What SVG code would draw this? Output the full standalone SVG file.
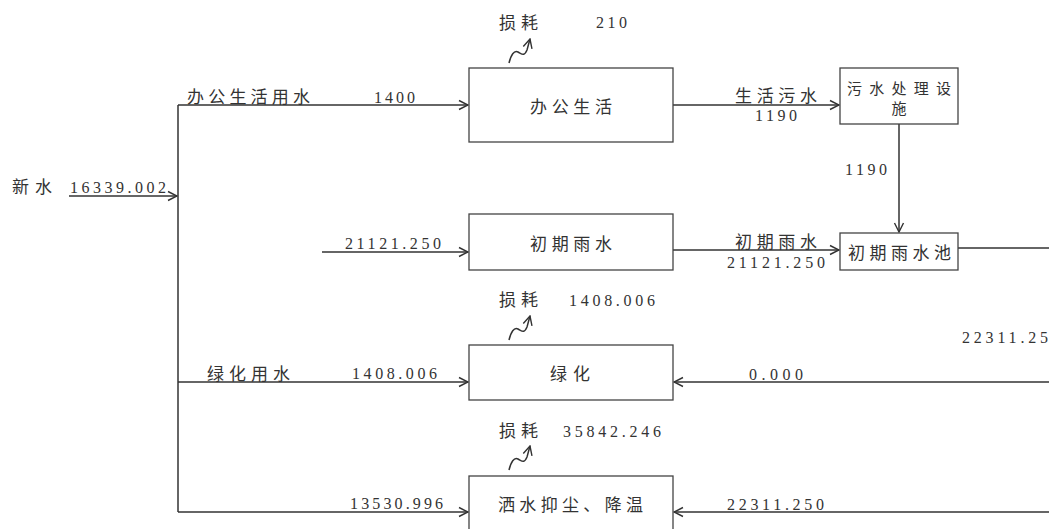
<svg xmlns="http://www.w3.org/2000/svg" width="1049" height="529" viewBox="0 0 1049 529">
<defs>
<style>
.ln{stroke:#333;stroke-width:1.5;fill:none}
.bx{stroke:#444;stroke-width:1.3;fill:#fff}
.cn{font-family:"Noto Sans CJK SC","Noto Sans",sans-serif;font-size:17px;fill:#333}
.cs{font-family:"Noto Sans CJK SC","Noto Sans",sans-serif;font-size:15px;fill:#333}
.nm{font-family:"Liberation Serif","DejaVu Serif",serif;font-size:16px;fill:#333}
</style>
<marker id="ar" viewBox="0 0 12 12" refX="11" refY="6" markerWidth="12" markerHeight="12" markerUnits="userSpaceOnUse" orient="auto">
<path d="M2,1.5 L11,6 L2,10.5" fill="none" stroke="#333" stroke-width="1.4"/>
</marker>
</defs>
<rect width="1049" height="529" fill="#fff"/>
<g id="connectors">
<line class="ln" x1="69" y1="196" x2="177" y2="196" marker-end="url(#ar)"/>
<line class="ln" x1="178" y1="105" x2="178" y2="512"/>
<line class="ln" x1="178" y1="105" x2="468" y2="105" marker-end="url(#ar)"/>
<line class="ln" x1="178" y1="382" x2="468" y2="382" marker-end="url(#ar)"/>
<line class="ln" x1="178" y1="512" x2="468" y2="512" marker-end="url(#ar)"/>
<line class="ln" x1="322" y1="252" x2="468" y2="252" marker-end="url(#ar)"/>
<line class="ln" x1="673" y1="105" x2="839" y2="105" marker-end="url(#ar)"/>
<line class="ln" x1="899" y1="124" x2="899" y2="232" marker-end="url(#ar)"/>
<line class="ln" x1="673" y1="250" x2="839" y2="250" marker-end="url(#ar)"/>
<line class="ln" x1="958" y1="248" x2="1049" y2="248"/>
<line class="ln" x1="1049" y1="382" x2="674" y2="382" marker-end="url(#ar)"/>
<line class="ln" x1="1049" y1="512" x2="674" y2="512" marker-end="url(#ar)"/>
<path class="ln" d="M509,63 C511,55 514,50 518,52 C522,54 524,57 527,50 L530,39" marker-end="url(#ar)"/>
<path class="ln" d="M509,340 C511,332 514,327 518,329 C522,331 524,334 527,327 L530,316" marker-end="url(#ar)"/>
<path class="ln" d="M509,470 C511,462 514,457 518,459 C522,461 524,464 527,457 L530,446" marker-end="url(#ar)"/>
</g>
<g id="node-office">
<rect class="bx" x="469" y="68" width="204" height="74"/>
<text class="cn" x="530" y="113" textLength="82" lengthAdjust="spacing">办公生活</text>
</g>
<g id="node-sewage">
<rect class="bx" x="840" y="68" width="118" height="56"/>
<text class="cs" x="847" y="94" textLength="104" lengthAdjust="spacing">污水处理设</text>
<text class="cs" x="899" y="114" text-anchor="middle">施</text>
</g>
<g id="node-rain">
<rect class="bx" x="469" y="214" width="204" height="56"/>
<text class="cn" x="530" y="250" textLength="82" lengthAdjust="spacing">初期雨水</text>
</g>
<g id="node-pool">
<rect class="bx" x="840" y="233" width="118" height="37"/>
<text class="cn" x="848" y="259" textLength="103" lengthAdjust="spacing">初期雨水池</text>
</g>
<g id="node-green">
<rect class="bx" x="469" y="345" width="204" height="55"/>
<text class="cn" x="550" y="380" textLength="40" lengthAdjust="spacing">绿化</text>
</g>
<g id="node-spray">
<rect class="bx" x="469" y="476" width="204" height="60"/>
<text class="cn" x="498" y="511" textLength="145" lengthAdjust="spacing">洒水抑尘、降温</text>
</g>
<g id="labels">
<text class="cn" x="12" y="193" textLength="40" lengthAdjust="spacing">新水</text>
<text class="nm" x="70" y="193" textLength="96" lengthAdjust="spacing">16339.002</text>
<text class="cn" x="187" y="103" textLength="123" lengthAdjust="spacing">办公生活用水</text>
<text class="nm" x="374" y="103" textLength="41" lengthAdjust="spacing">1400</text>
<text class="cn" x="499" y="29" textLength="39" lengthAdjust="spacing">损耗</text>
<text class="nm" x="596" y="28" textLength="31" lengthAdjust="spacing">210</text>
<text class="cn" x="735" y="102" textLength="82" lengthAdjust="spacing">生活污水</text>
<text class="nm" x="755" y="121" textLength="42" lengthAdjust="spacing">1190</text>
<text class="nm" x="845" y="175" textLength="42" lengthAdjust="spacing">1190</text>
<text class="nm" x="345" y="249" textLength="96" lengthAdjust="spacing">21121.250</text>
<text class="cn" x="735" y="248" textLength="82" lengthAdjust="spacing">初期雨水</text>
<text class="nm" x="727" y="268" textLength="98" lengthAdjust="spacing">21121.250</text>
<text class="cn" x="499" y="306" textLength="39" lengthAdjust="spacing">损耗</text>
<text class="nm" x="569" y="306" textLength="86" lengthAdjust="spacing">1408.006</text>
<text class="nm" x="962" y="343" textLength="86" lengthAdjust="spacing">22311.25</text>
<text class="cn" x="207" y="380" textLength="83" lengthAdjust="spacing">绿化用水</text>
<text class="nm" x="352" y="379" textLength="85" lengthAdjust="spacing">1408.006</text>
<text class="nm" x="749" y="380" textLength="54" lengthAdjust="spacing">0.000</text>
<text class="cn" x="499" y="437" textLength="39" lengthAdjust="spacing">损耗</text>
<text class="nm" x="563" y="437" textLength="98" lengthAdjust="spacing">35842.246</text>
<text class="nm" x="350" y="509" textLength="93" lengthAdjust="spacing">13530.996</text>
<text class="nm" x="727" y="510" textLength="97" lengthAdjust="spacing">22311.250</text>
</g>
</svg>
